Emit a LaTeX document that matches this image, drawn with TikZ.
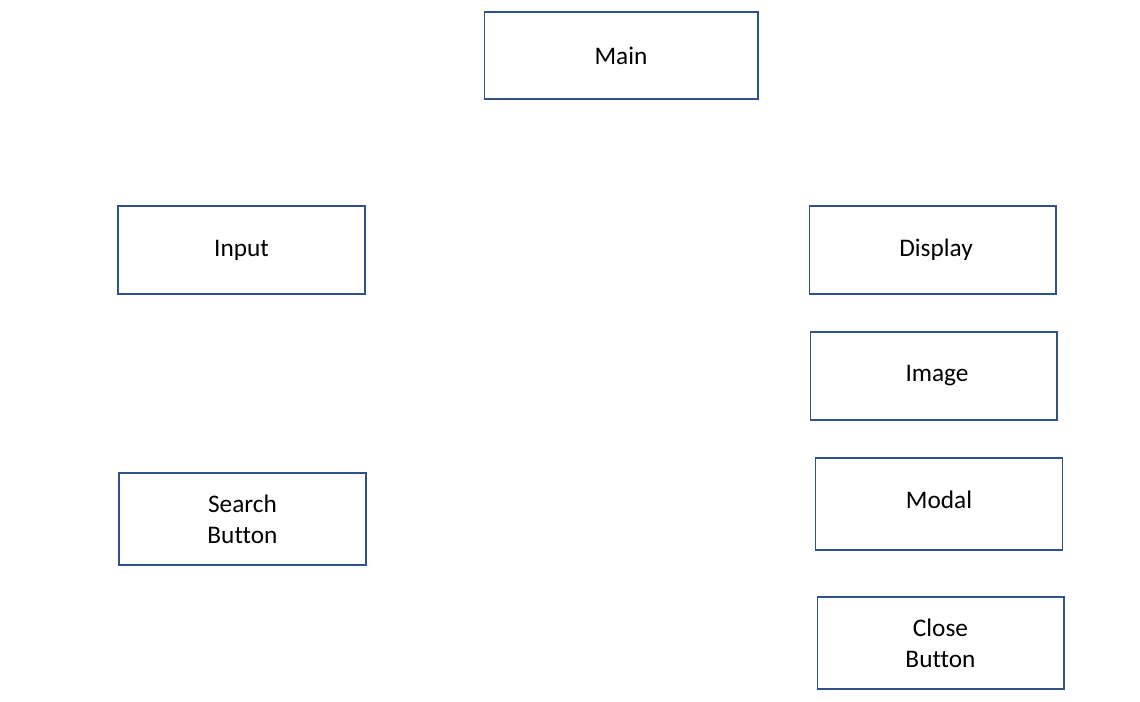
\documentclass[tikz,border=0pt]{standalone}
\usepackage{fontspec}
\setmainfont{Carlito}[Ligatures=NoCommon]
\definecolor{edge}{HTML}{2F528F}
\usetikzlibrary{positioning}

\begin{document}
\begin{tikzpicture}[
  x=0.02cm,y=-0.02cm,
  font=\fontsize{14.4}{17.6}\selectfont,
  block/.style={draw=edge,line width=0.6pt,fill=white,
    minimum width=4.94cm,minimum height=1.76cm,align=center,inner sep=2pt},
  tall/.style={block,minimum height=1.84cm}
]
\useasboundingbox (0,0) rectangle (1140,702);
% top
\node[block,minimum width=5.48cm,minimum height=1.74cm] (main) at (621,55.5) {Main};
% left column
\node[block] (input) at (241.5,250) {\raisebox{-1.5pt}{Input}};
\node[tall] (search) at (242.5,519) {Search\\Button};
% right column
\node[block] (display) at (932.5,250) {\hspace{4pt}\raisebox{-1.5pt}{Display}};
\node[block] (image) at (933.5,376) {\hspace{4pt}\raisebox{-2pt}{Image}};
\node[tall] (modal) at (939,504) {\raisebox{5pt}{Modal}};
\node[tall] (close) at (940.5,643) {Close\\Button};
\end{tikzpicture}
\end{document}
